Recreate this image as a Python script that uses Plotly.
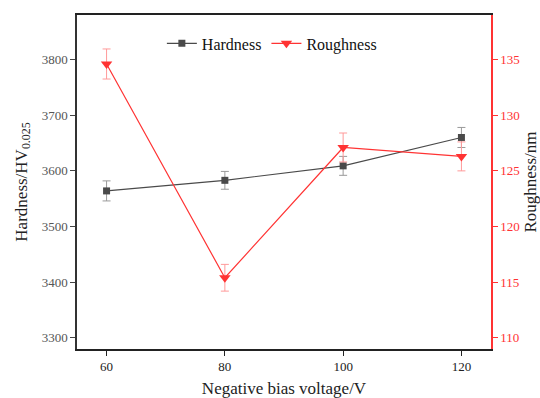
import plotly.graph_objects as go

voltage = [60, 80, 100, 120]
hardness = [3564, 3583, 3609, 3660]
hardness_err = [18, 16, 17, 18]
roughness = [134.6, 115.4, 127.1, 126.3]
roughness_err = [1.35, 1.2, 1.3, 1.3]

font_family = "Liberation Serif, Times New Roman, serif"
red = "#ff3333"
grey = "#4a4a4a"

fig = go.Figure()
fig.add_trace(go.Scatter(
    x=voltage, y=hardness, name="Hardness", mode="lines+markers",
    line=dict(color=grey, width=1.2),
    marker=dict(symbol="square", size=7, color=grey),
    error_y=dict(type="data", array=hardness_err, color="#9a9a9a", thickness=1, width=4),
))
fig.add_trace(go.Scatter(
    x=voltage, y=roughness, name="Roughness", mode="lines+markers", yaxis="y2",
    line=dict(color=red, width=1.2),
    marker=dict(symbol="triangle-down", size=10, color=red),
    error_y=dict(type="data", array=roughness_err, color="#ff9a9a", thickness=1, width=4),
))

fig.update_layout(
    width=540, height=398,
    margin=dict(l=77, r=49, t=15, b=49),
    paper_bgcolor="white", plot_bgcolor="white",
    font=dict(family=font_family, size=13, color="#333333"),
    showlegend=True,
    legend=dict(orientation="h", x=0.205, y=0.915, xanchor="left", yanchor="middle",
                font=dict(size=16, color="#111111"), bgcolor="rgba(0,0,0,0)",
                itemwidth=30, tracegroupgap=0),
    xaxis=dict(
        range=[55, 125], tickvals=voltage, ticks="outside", ticklen=5, tickwidth=1.2,
        tickcolor="#222222", showline=True, linecolor="#222222", linewidth=1.5, mirror=True,
        showgrid=False, zeroline=False, automargin=False,
        tickfont=dict(size=13, color="#222222"),
        title=dict(text="Negative bias voltage/V", font=dict(size=17, color="#222222"), standoff=14),
    ),
    yaxis=dict(
        range=[3280, 3880], tickvals=[3300, 3400, 3500, 3600, 3700, 3800], ticks="outside",
        ticklen=5, tickwidth=1.2, tickcolor="#444444", showline=True, linecolor="#333333",
        linewidth=1.5, showgrid=False, zeroline=False, automargin=False,
        tickfont=dict(size=13, color="#555555"),
        title=dict(text="Hardness/HV<sub>0.025</sub>", font=dict(size=17, color="#222222"), standoff=10),
    ),
    yaxis2=dict(
        range=[109, 139], tickvals=[110, 115, 120, 125, 130, 135], overlaying="y", side="right",
        ticks="outside", ticklen=5, tickwidth=1.2, tickcolor=red, showline=True, linecolor=red,
        linewidth=1.5, showgrid=False, zeroline=False, automargin=False,
        tickfont=dict(size=13, color=red),
        title=dict(text="Roughness/nm", font=dict(size=17, color="#222222"), standoff=8),
    ),
)

fig.write_html("out.html")
